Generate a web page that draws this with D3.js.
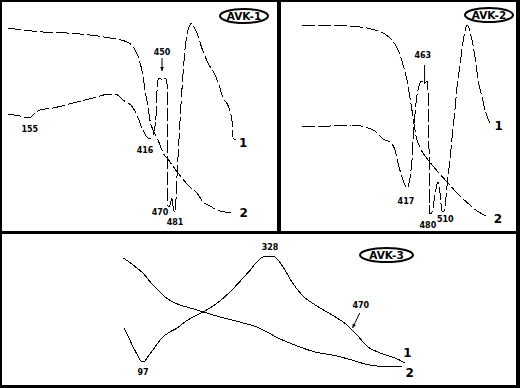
<!DOCTYPE html>
<html><head><meta charset="utf-8">
<script src="https://cdn.jsdelivr.net/npm/d3@7"></script>
<style>html,body{margin:0;padding:0;background:#000;}svg{display:block}</style>
</head><body><svg id="c" width="520" height="388"></svg>
<script>
// ---- data: [temperature °C, signal (arbitrary units)] ----
const avk1Dta = [[100,53],[128,52],[150,51],[157,52.5],[173,55],[203,56],[248,58.5],[294,61],[332,63],[344,63],[362,60],[385,56],[396,51],[407,45],[419,41],[425,41],[432,44],[437,52.5],[439,64],[441,70],[446,71],[450,70],[453,71],[460,70.5],[462,67.5],[464,6.5],[469,7.5],[473,11.5],[475,7.5],[480,4],[485,24],[496,66],[503,86],[507,92.5],[514,97.5],[519,98.5],[521,97.5],[530,93.5],[541,86],[555,78.5],[571,72.5],[582,66],[589,61],[600,57.5],[610,49],[612,41],[619,40]];
const avk1Tg = [[100,96],[180,94],[235,93.5],[287,92.5],[332,91],[371,89],[385,86.5],[394,83],[400,79],[407,72.5],[412,65],[419,56],[423,50],[430,45],[435,43],[446,37.5],[453,33.5],[462,31],[485,24],[514,16.5],[530,13.5],[544,9],[560,7],[575,5],[612,3.5]];
const avk2Dta = [[146,46.5],[218,47],[275,47.5],[309,46.5],[334,44.5],[355,40.5],[373,39],[386,35],[394,28.5],[404,21.5],[412,17.5],[417,16],[422,18],[427,24],[430,30],[433,40],[438,53.5],[443,62.5],[448,67],[456,69.5],[461,68],[469,69.5],[471,66],[474,35],[476,3],[482,4],[489,12],[497,19],[502,14],[507,5],[510,4],[515,6],[520,16],[528,30],[533,40],[541,55],[546,66],[554,77.5],[562,89],[569,96],[572,97.5],[577,96],[585,90],[593,81.5],[600,71],[611,61.5],[621,53.5],[631,48.5]];
const avk2Tg = [[146,97.5],[218,97.5],[270,97],[334,95],[360,93],[378,90],[394,85],[407,77.5],[417,70],[425,61],[433,51],[440,42.5],[451,36],[464,32],[482,27.5],[502,23],[523,18.5],[544,14],[562,10.5],[580,7.5],[595,5],[611,3],[626,1.5]];
const avk3Dta = [[62.5,35],[71.5,26.7],[79,19.2],[88,11.7],[95,6.7],[99,6.7],[104,10],[115,16.7],[124,22.5],[133,27.5],[146,31.7],[159,35],[173,40],[188,44.2],[206,48.3],[232,55.8],[255,65],[279,76.7],[292,83.3],[304,90],[315,94.2],[326,95],[332,95],[342.5,91.7],[355,83.3],[368,73.3],[386,62.5],[410,54.2],[441,45.8],[468,37.5],[486,29.2],[506,19.2],[524,15],[550,10.8],[570,6.7],[573,5.8]];
const avk3Tg = [[60.6,93.3],[69.7,90.8],[79,87.5],[88,84.2],[97,80.8],[106,75.8],[115,70.8],[124,66.7],[133,62.5],[142,59.2],[151.5,56.7],[164,54.2],[177,52.5],[200.6,49.2],[237,44.2],[279,39.2],[304,35.8],[319,32.5],[342.5,26.7],[373,20.8],[410,15],[441,12.5],[477,8.3],[501,5],[524,3.3],[568,3.3]];

// peak labels: [text, temperature, signal]
const avk1Labels = [["155",150,45.5],["416",412,35],["450",450.5,84],["470",446,4],["481",480,-1]];
const avk2Labels = [["463",458,82.5],["417",414.4,9.5],["480",471,-2.5],["510",516,0.5]];
const avk3Labels = [["328",328,102],["97",97,-1.7],["470",493,54]];
// curve number labels: [text, temperature, signal]
const avk1Curves = [["1",635,38.5],["2",636,3.5]];
const avk2Curves = [["1",654,47],["2",652,0.5]];
const avk3Curves = [["1",578,14.6],["2",582,-2]];
// arrows: [fromT, fromS, toT, toS, head]
const avk1Arrows = [[450.5,81,450.5,74.5,1]];
const avk2Arrows = [[462.5,77.5,462.5,68.5,0]];
const avk3Arrows = [[491,47.5,478,35,1]];
const titles = ["AVK-1","AVK-2","AVK-3"];

const svg = d3.select("#c");
svg.append("rect").attr("width",520).attr("height",388).attr("fill","#000");

const panels = [
  {box:[2,2,275,229], xd:[100,620], xr:[7.8,236.6], yd:[0,100], yr:[220,20], dta:avk1Dta, tg:avk1Tg, labels:avk1Labels, curves:avk1Curves, arrows:avk1Arrows, badge:[244,16,24,7], dash:"13,3"},
  {box:[281,2,235,229], xd:[146,652], xr:[302.1,497.9], yd:[0,100], yr:[220,20], dta:avk2Dta, tg:avk2Tg, labels:avk2Labels, curves:avk2Curves, arrows:avk2Arrows, badge:[489,15,24,7], dash:"13,3"},
  {box:[2,234,514,151], xd:[60,580], xr:[122.65,408.65], yd:[0,100], yr:[370,250], dta:avk3Dta, tg:avk3Tg, labels:avk3Labels, curves:avk3Curves, arrows:avk3Arrows, badge:[386.5,255,26.5,7], dash:null}
];

panels.forEach((p,i)=>{
  const [bx,by,bw,bh] = p.box;
  svg.append("rect").attr("x",bx).attr("y",by).attr("width",bw).attr("height",bh).attr("fill","#fff");
  const g = svg.append("g");
  const xs = d3.scaleLinear().domain(p.xd).range(p.xr);
  const ys = d3.scaleLinear().domain(p.yd).range(p.yr);
  const line = d3.line().x(d=>xs(d[0])).y(d=>ys(d[1])).curve(d3.curveMonotoneX);
  [p.tg,p.dta].forEach(series=>{
    const path = g.append("path").attr("d",line(series)).attr("fill","none")
      .attr("stroke","#000").attr("stroke-width",1).attr("shape-rendering","crispEdges");
    if(p.dash) path.attr("stroke-dasharray",p.dash);
  });
  p.labels.forEach(l=>{
    g.append("text").attr("x",xs(l[1])).attr("y",ys(l[2])).attr("dy","0.36em")
      .attr("text-anchor","middle").attr("font-family","DejaVu Sans").attr("font-weight","bold")
      .attr("font-size",8).attr("fill","#000").text(l[0]);
  });
  p.curves.forEach(l=>{
    g.append("text").attr("x",xs(l[1])).attr("y",ys(l[2])).attr("dy","0.36em")
      .attr("text-anchor","middle").attr("font-family","DejaVu Sans").attr("font-weight","bold")
      .attr("font-size",12).attr("fill","#000").text(l[0]);
  });
  p.arrows.forEach(a=>{
    const x1=xs(a[0]), y1=ys(a[1]), x2=xs(a[2]), y2=ys(a[3]);
    g.append("line").attr("x1",x1).attr("y1",y1).attr("x2",x2).attr("y2",y2)
      .attr("stroke","#000").attr("stroke-width",1);
    if(a[4]){
      const dx=x2-x1, dy=y2-y1, L=Math.hypot(dx,dy), ux=dx/L, uy=dy/L, hl=4, hw=1.8;
      const pts=[[x2,y2],[x2-ux*hl-uy*hw, y2-uy*hl+ux*hw],[x2-ux*hl+uy*hw, y2-uy*hl-ux*hw]];
      g.append("polygon").attr("points",pts.map(q=>q.join(",")).join(" ")).attr("fill","#000");
    }
  });
  const [cx,cy,rx,ry] = p.badge;
  g.append("ellipse").attr("cx",cx).attr("cy",cy).attr("rx",rx).attr("ry",ry)
    .attr("fill","#fff").attr("stroke","#000").attr("stroke-width",2);
  g.append("text").attr("x",cx).attr("y",cy).attr("dy","0.36em").attr("text-anchor","middle")
    .attr("font-family","DejaVu Sans").attr("font-weight","bold").attr("font-size",10.5)
    .attr("fill","#000").text(titles[i]);
});
</script></body></html>
